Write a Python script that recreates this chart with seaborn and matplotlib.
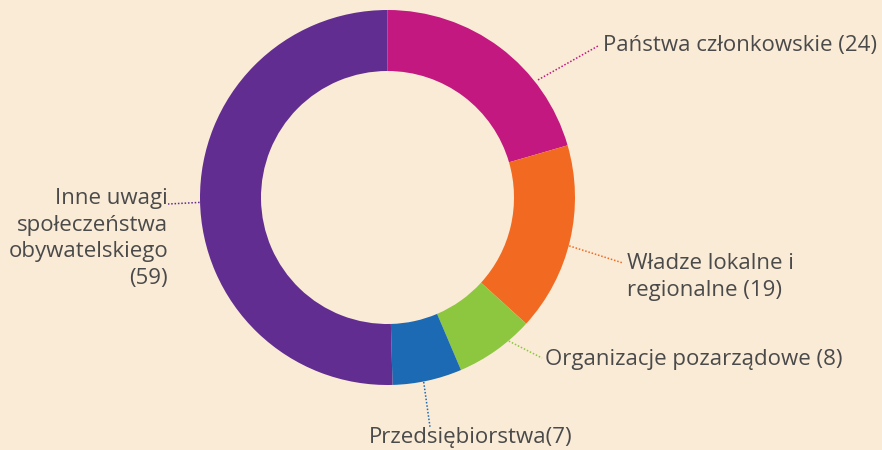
import numpy as np
import matplotlib
matplotlib.use('Agg')
import matplotlib.pyplot as plt
import seaborn as sns

# data
labels = ['Państwa członkowskie (24)', 'Władze lokalne i\nregionalne (19)',
          'Organizacje pozarządowe (8)', 'Przedsiębiorstwa(7)',
          'Inne uwagi\nspołeczeństwa\nobywatelskiego\n(59)']
values = [24, 19, 8, 7, 59]
colors = ['#C2187F', '#F26A21', '#8DC63F', '#1C6AB3', '#622D90']

bg = '#FAEBD7'
text_color = '#4A4A4A'

sns.set_style('white')
plt.rcParams['font.family'] = ['Open Sans', 'DejaVu Sans']

fig = plt.figure(figsize=(8.82, 4.5), dpi=100, facecolor=bg)
ax = fig.add_axes([0, 0, 1, 1])
ax.set_facecolor(bg)

# layout in pixel space (y measured from bottom)
cx, cy, R = 387.5, 252.5, 187.5
wedges, _ = ax.pie(values, colors=colors, startangle=90, counterclock=False,
                   radius=R, center=(cx, cy),
                   wedgeprops=dict(width=61, linewidth=0))
ax.set_xlim(0, 882)
ax.set_ylim(0, 450)
ax.set_aspect('equal')
ax.axis('off')

# leader line anchors (angle on ring, radius) and label positions
anchors = [(38, 191), (-14.9, 188), (-49.8, 188), (-78.9, 188), (181.5, 188)]
text_pos = [(603, 404), (627, 197), (545, 90), (471, 13), (168, 262)]
ha = ['left', 'left', 'left', 'center', 'right']
va = ['center', 'top', 'center', 'center', 'top']
line_end = [(598, 404), (623, 187), (542, 92), (430, 23), (168, 246)]

for lab, col, (ang, r), tp, h, v, le in zip(labels, colors, anchors, text_pos, ha, va, line_end):
    x0 = cx + r * np.cos(np.radians(ang))
    y0 = cy + r * np.sin(np.radians(ang))
    ax.plot([x0, le[0]], [y0, le[1]], color=col, linestyle=(0, (1, 1.2)), linewidth=1.1)
    ax.text(tp[0], tp[1], lab, ha=h, va=v, fontsize=16, color=text_color,
            linespacing=1.35, multialignment=h if h != 'center' else 'center')

fig.savefig('out.png', dpi=100, facecolor=bg)
